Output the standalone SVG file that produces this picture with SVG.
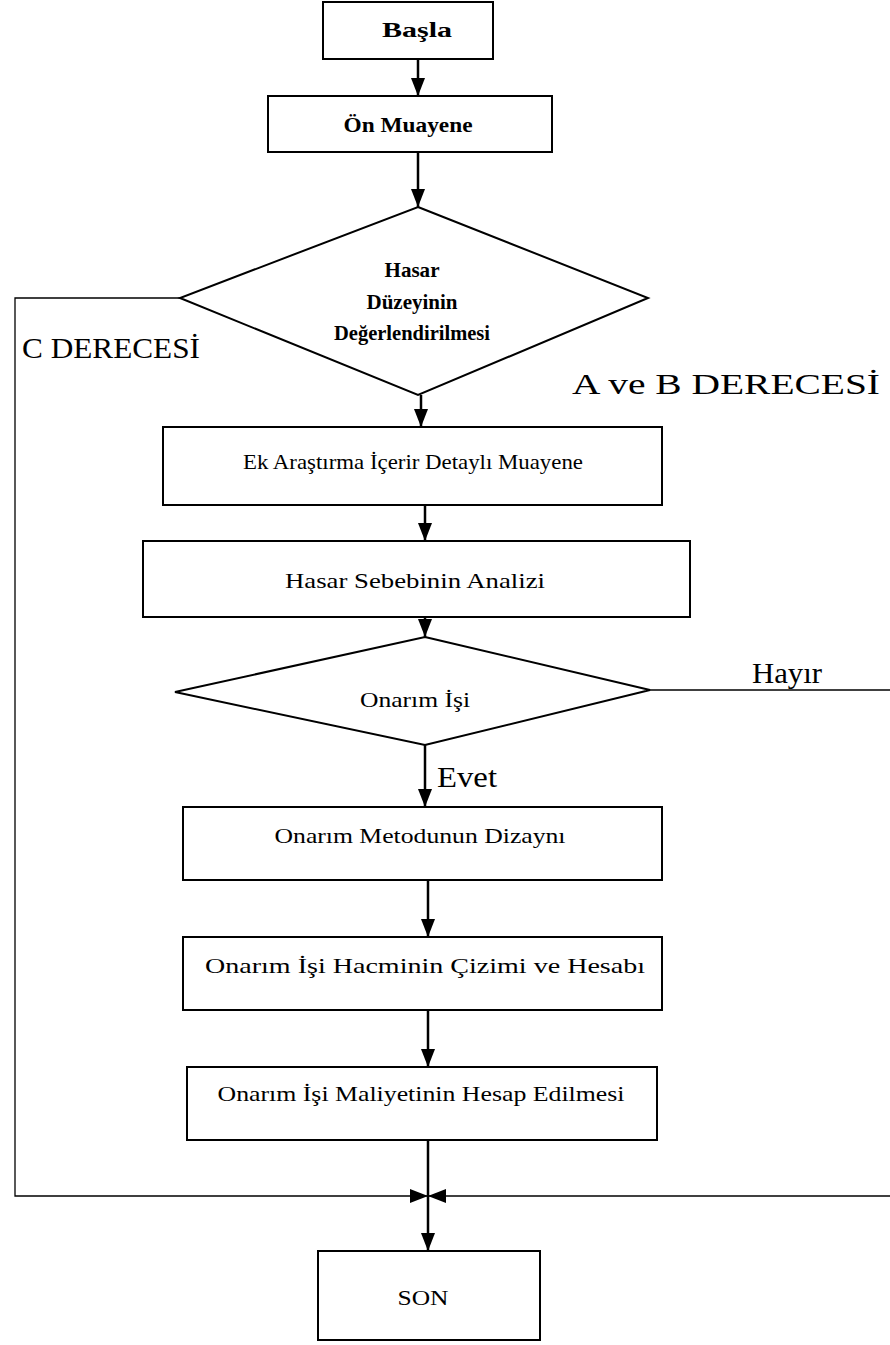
<svg xmlns="http://www.w3.org/2000/svg" width="890" height="1345" viewBox="0 0 890 1345">
<style>
.box{fill:#fff;stroke:#000;stroke-width:2}
.t{font-family:"Liberation Serif","Times New Roman",serif;font-size:21px;fill:#000;text-anchor:middle}
.b{font-weight:bold}
.lbl{font-family:"Liberation Serif","Times New Roman",serif;font-size:30px;fill:#000}
.main{stroke:#000;stroke-width:2.5;fill:none}
.side{stroke:#000;stroke-width:1.3;fill:none}
</style>
<defs>
<marker id="ah" viewBox="0 0 10 10" refX="10" refY="5" markerWidth="18" markerHeight="14" markerUnits="userSpaceOnUse" orient="auto" preserveAspectRatio="none">
<path d="M0,0 L10,5 L0,10 z" fill="#000"/>
</marker>
</defs>
<g id="connectors">
<line class="main" x1="418" y1="59" x2="418" y2="96" marker-end="url(#ah)"/>
<line class="main" x1="418" y1="152" x2="418" y2="207" marker-end="url(#ah)"/>
<line class="main" x1="421" y1="395" x2="421" y2="427" marker-end="url(#ah)"/>
<line class="main" x1="425" y1="505" x2="425" y2="541" marker-end="url(#ah)"/>
<line class="main" x1="425" y1="617" x2="425" y2="637" marker-end="url(#ah)"/>
<line class="main" x1="425" y1="745" x2="425" y2="807" marker-end="url(#ah)"/>
<line class="main" x1="428" y1="880" x2="428" y2="937" marker-end="url(#ah)"/>
<line class="main" x1="428" y1="1010" x2="428" y2="1067" marker-end="url(#ah)"/>
<line class="main" x1="428" y1="1140" x2="428" y2="1251" marker-end="url(#ah)"/>
<polyline class="side" points="180,298 15,298 15,1196 428,1196" marker-end="url(#ah)"/>
<line class="side" x1="650" y1="690" x2="890" y2="690"/>
<line class="side" x1="890" y1="1196" x2="428" y2="1196" marker-end="url(#ah)"/>
</g>
<g id="basla"><rect class="box" x="323" y="2" width="170" height="57"/><text class="t b" x="417" y="37" textLength="70" lengthAdjust="spacingAndGlyphs">Başla</text></g>
<g id="on-muayene"><rect class="box" x="268" y="96" width="284" height="56"/><text class="t b" x="408" y="132" textLength="129" lengthAdjust="spacingAndGlyphs">Ön Muayene</text></g>
<g id="hasar-duzeyi"><polygon class="box" points="418,207 648,298 418,395 180,298"/>
<text class="t b" x="412" y="277" textLength="55" lengthAdjust="spacingAndGlyphs">Hasar</text>
<text class="t b" x="412" y="309" textLength="91" lengthAdjust="spacingAndGlyphs">Düzeyinin</text>
<text class="t b" x="412" y="340" textLength="156" lengthAdjust="spacingAndGlyphs">Değerlendirilmesi</text></g>
<g id="lbl-c"><text class="lbl" x="22" y="358" textLength="178" lengthAdjust="spacingAndGlyphs">C DERECESİ</text></g>
<g id="lbl-ab"><text class="lbl" x="572" y="394" textLength="308" lengthAdjust="spacingAndGlyphs">A ve B DERECESİ</text></g>
<g id="ek-arastirma"><rect class="box" x="163" y="427" width="499" height="78"/><text class="t" x="413" y="469" textLength="340" lengthAdjust="spacingAndGlyphs">Ek Araştırma İçerir Detaylı Muayene</text></g>
<g id="hasar-sebebi"><rect class="box" x="143" y="541" width="547" height="76"/><text class="t" x="415" y="588" textLength="260" lengthAdjust="spacingAndGlyphs">Hasar Sebebinin Analizi</text></g>
<g id="onarim-isi"><polygon class="box" points="425,637 650,690 425,745 175,692"/><text class="t" x="415" y="707" textLength="110" lengthAdjust="spacingAndGlyphs">Onarım İşi</text></g>
<g id="lbl-hayir"><text class="lbl" x="752" y="683" textLength="70" lengthAdjust="spacingAndGlyphs">Hayır</text></g>
<g id="lbl-evet"><text class="lbl" x="437" y="787" textLength="60" lengthAdjust="spacingAndGlyphs">Evet</text></g>
<g id="metod"><rect class="box" x="183" y="807" width="479" height="73"/><text class="t" x="420" y="843" textLength="291" lengthAdjust="spacingAndGlyphs">Onarım Metodunun Dizaynı</text></g>
<g id="hacim"><rect class="box" x="183" y="937" width="479" height="73"/><text class="t" x="425" y="973" textLength="440" lengthAdjust="spacingAndGlyphs">Onarım İşi Hacminin Çizimi ve Hesabı</text></g>
<g id="maliyet"><rect class="box" x="187" y="1067" width="470" height="73"/><text class="t" x="421" y="1101" textLength="407" lengthAdjust="spacingAndGlyphs">Onarım İşi Maliyetinin Hesap Edilmesi</text></g>
<g id="son"><rect class="box" x="318" y="1251" width="222" height="89"/><text class="t" x="423" y="1305" textLength="51" lengthAdjust="spacingAndGlyphs">SON</text></g>
</svg>
